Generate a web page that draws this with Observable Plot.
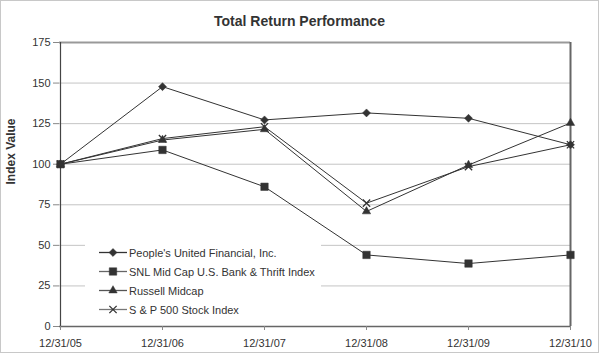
<!DOCTYPE html>
<html>
<head>
<meta charset="utf-8">
<script src="https://cdn.jsdelivr.net/npm/d3@7"></script>
<script src="https://cdn.jsdelivr.net/npm/@observablehq/plot@0.6"></script>
<style>
  html, body { margin: 0; padding: 0; background: #fff; }
  body { width: 599px; height: 353px; position: relative; overflow: hidden;
         font-family: "Liberation Sans", Arial, sans-serif; color: #333; }
  #chart { position: absolute; left: 0; top: 0; }
  #title { position: absolute; left: 0; width: 599px; top: 13px; text-align: center;
           font-weight: bold; font-size: 14px; color: #333; }
  #legend { position: absolute; left: 85px; top: 237px; width: 236px; height: 81px;
            background: #fff; padding-top: 6px; box-sizing: border-box; }
  .item { height: 19px; display: flex; align-items: center; font-size: 11px; color: #333; }
  .item svg { margin-left: 14px; margin-right: 2px; }
  #border { position: absolute; left: 0; top: 0; width: 599px; height: 353px;
            box-sizing: border-box; border: 1px solid #c8c8c8; pointer-events: none; }
</style>
</head>
<body>
<div id="chart"></div>
<div id="title">Total Return Performance</div>
<div id="legend"></div>
<div id="border"></div>
<script>
const dates = ["12/31/05", "12/31/06", "12/31/07", "12/31/08", "12/31/09", "12/31/10"];
const seriesNames = [
  "People's United Financial, Inc.",
  "SNL Mid Cap U.S. Bank & Thrift Index",
  "Russell Midcap",
  "S & P 500 Stock Index"
];
const peoples = [100, 147.8, 127.3, 131.6, 128.3, 112.0];
const snl     = [100, 108.8, 86.1, 44.1, 38.8, 44.1];
const russell = [100, 114.9, 121.5, 70.9, 99.5, 125.4];
const sp500   = [100, 115.8, 123.1, 76.0, 98.5, 112.0];
const yTicks = [0, 25, 50, 75, 100, 125, 150, 175];

const seriesValues = [peoples, snl, russell, sp500];
const symbols = ["diamond2", "square", "triangle", "times"];
const symbolR = [3.6, 4.2, 3.1, 3.4];
const ink = "#333";

const rows = [];
seriesNames.forEach((name, i) => {
  seriesValues[i].forEach((v, j) => rows.push({series: name, idx: i, date: dates[j], value: v}));
});

const dotMarks = seriesNames.map((name, i) => {
  const data = rows.filter(d => d.idx === i);
  const isStroke = symbols[i] === "times";
  return Plot.dot(data, {
    x: "date", y: "value", symbol: () => symbols[i], r: symbolR[i],
    fill: isStroke ? "none" : ink, stroke: ink, strokeWidth: isStroke ? 1.3 : 0.5
  });
});

const chart = Plot.plot({
  width: 599,
  height: 353,
  marginLeft: 59,
  marginRight: 29,
  marginTop: 42,
  marginBottom: 27,
  style: {fontFamily: "'Liberation Sans', Arial, sans-serif", fontSize: "11px", color: ink, background: "transparent"},
  x: {type: "point", domain: dates, padding: 0, label: null},
  y: {domain: [0, 175], label: null},
  symbol: {type: "identity"},
  marks: [
    Plot.ruleY(yTicks.filter(d => d > 0 && d < 175), {stroke: "#c4c4c4", strokeWidth: 1}),
    Plot.ruleY([175], {stroke: "#999", strokeWidth: 2}),
    Plot.ruleX([dates[dates.length - 1]], {stroke: "#666", strokeWidth: 2}),
    Plot.ruleX([dates[0]], {stroke: "#444", strokeWidth: 1.2}),
    Plot.ruleY([0], {stroke: "#666", strokeWidth: 1.5}),
    Plot.axisY({ticks: yTicks, tickSize: 6, tickPadding: 3, label: null, stroke: "#888"}),
    Plot.axisX({tickSize: 4, tickPadding: 9, label: null, stroke: "#888"}),
    Plot.text(["Index Value"], {frameAnchor: "left", text: d => d, rotate: -90, dx: -48,
      fontWeight: "bold", fontSize: 12, fill: ink}),
    Plot.line(rows, {x: "date", y: "value", z: "series", stroke: ink, strokeWidth: 1}),
    ...dotMarks
  ]
});
document.getElementById("chart").appendChild(chart);

// legend
const legend = d3.select("#legend");
const d3sym = {diamond2: d3.symbolDiamond2, square: d3.symbolSquare, triangle: d3.symbolTriangle, times: d3.symbolTimes};
const legendLine = ["#333", "#666", "#555", "#777"];
seriesNames.forEach((name, i) => {
  const item = legend.append("div").attr("class", "item");
  const svg = item.append("svg").attr("width", 28).attr("height", 19);
  svg.append("line").attr("x1", 0).attr("x2", 28).attr("y1", 9.5).attr("y2", 9.5)
     .attr("stroke", legendLine[i]).attr("stroke-width", 1.3);
  const isStroke = symbols[i] === "times";
  svg.append("path")
     .attr("transform", "translate(14,9.5)")
     .attr("d", d3.symbol(d3sym[symbols[i]], Math.PI * symbolR[i] * symbolR[i])())
     .attr("fill", isStroke ? "none" : ink)
     .attr("stroke", ink)
     .attr("stroke-width", isStroke ? 1.3 : 0.5);
  item.append("span").text(name);
});
</script>
</body>
</html>
